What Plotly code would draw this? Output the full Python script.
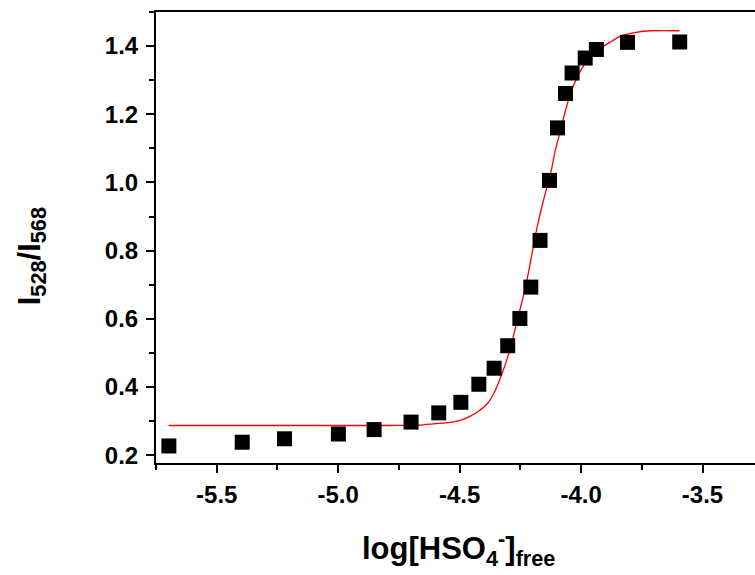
import plotly.graph_objects as go

# Measured data points
log_hso4 = [-5.697, -5.395, -5.221, -4.999, -4.852, -4.700, -4.586, -4.495, -4.421,
            -4.358, -4.302, -4.252, -4.207, -4.169, -4.130, -4.097, -4.064, -4.037,
            -3.983, -3.937, -3.809, -3.594]
ratio = [0.227, 0.238, 0.248, 0.262, 0.275, 0.297, 0.324, 0.355, 0.408,
         0.455, 0.521, 0.601, 0.693, 0.830, 1.006, 1.160, 1.261, 1.321,
         1.365, 1.390, 1.411, 1.412]

# Fitted curve
fit_x = [-5.698, -5.155, -4.785, -4.648, -4.607, -4.538, -4.483, -4.428, -4.387,
         -4.360, -4.339, -4.298, -4.263, -4.229, -4.202, -4.181, -4.155, -4.126,
         -4.106, -4.085, -4.064, -4.044, -4.016, -3.989, -3.955, -3.913, -3.872,
         -3.838, -3.769, -3.715, -3.595]
fit_y = [0.287, 0.287, 0.287, 0.289, 0.292, 0.296, 0.306, 0.326, 0.350,
         0.380, 0.414, 0.497, 0.595, 0.693, 0.791, 0.869, 0.947, 1.025,
         1.094, 1.153, 1.211, 1.260, 1.309, 1.343, 1.373, 1.397, 1.415,
         1.429, 1.441, 1.445, 1.445]

x_ticks = [-5.5, -5.0, -4.5, -4.0, -3.5]
y_ticks = [0.2, 0.4, 0.6, 0.8, 1.0, 1.2, 1.4]

x_title = "<b>log[HSO<sub>4</sub><sup>-</sup>]<sub>free</sub></b>"
y_title = "<b>I<sub>528</sub>/I<sub>568</sub></b>"

font_family = "Liberation Sans"

fig = go.Figure()
fig.add_trace(go.Scatter(
    x=fit_x, y=fit_y, mode="lines",
    line=dict(color="#ff0000", width=1.3, shape="spline"),
    showlegend=False, hoverinfo="skip"))
fig.add_trace(go.Scatter(
    x=log_hso4, y=ratio, mode="markers",
    marker=dict(symbol="square", size=15, color="black", line=dict(width=0)),
    showlegend=False))

fig.update_layout(
    width=755, height=575,
    margin=dict(l=156, r=0, t=12, b=112),
    plot_bgcolor="white", paper_bgcolor="white",
    font=dict(family=font_family, color="black", size=16),
    xaxis=dict(
        range=[-5.75, -3.284],
        tickmode="array",
        tickvals=x_ticks, ticktext=[f"<b>{v:.1f}</b>" for v in x_ticks],
        ticks="outside", ticklen=8, tickwidth=2, tickcolor="black",
        minor=dict(dtick=0.25, tick0=-5.5, ticks="outside", ticklen=5,
                   tickwidth=2, tickcolor="black"),
        showline=True, linecolor="black", linewidth=2, mirror=True,
        showgrid=False, zeroline=False,
        tickfont=dict(size=24, family=font_family, color="black"),
        ticklabelstandoff=1,
    ),
    yaxis=dict(
        range=[0.177, 1.5],
        tickmode="array",
        tickvals=y_ticks, ticktext=[f"<b>{v:.1f}</b>" for v in y_ticks],
        ticks="outside", ticklen=8, tickwidth=2, tickcolor="black",
        minor=dict(dtick=0.1, tick0=0.2, ticks="outside", ticklen=5,
                   tickwidth=2, tickcolor="black"),
        showline=True, linecolor="black", linewidth=2, mirror=False,
        showgrid=False, zeroline=False,
        tickfont=dict(size=24, family=font_family, color="black"),
        ticklabelstandoff=3,
    ),
    annotations=[
        dict(text=x_title, xref="paper", yref="paper",
             x=(458 - 156) / 599, y=(462.5 - 548) / 450.5,
             xanchor="center", yanchor="middle", showarrow=False,
             font=dict(size=31, family=font_family, color="black")),
        dict(text=y_title, xref="paper", yref="paper",
             x=(32 - 156) / 599, y=(462.5 - 256) / 450.5,
             xanchor="center", yanchor="middle", showarrow=False, textangle=-90,
             font=dict(size=31, family=font_family, color="black")),
    ],
)

fig.write_html("out.html")
